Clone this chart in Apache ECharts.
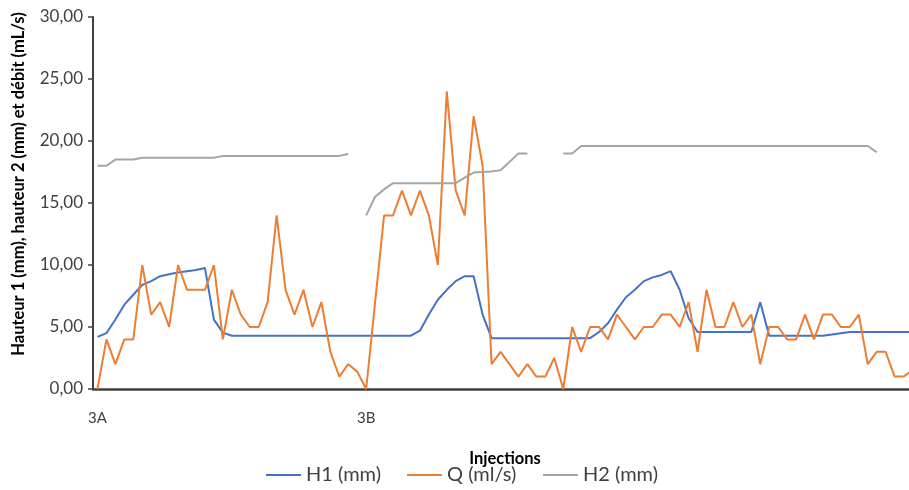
<!DOCTYPE html>
<html>
<head>
<meta charset="utf-8">
<script src="https://cdn.jsdelivr.net/npm/echarts@6/dist/echarts.min.js"></script>
<style>
  html, body { margin: 0; padding: 0; background: #ffffff; }
  #chart { width: 909px; height: 490px; }
</style>
</head>
<body>
<div id="chart"></div>
<script>
// Injection index labels along the category axis (only series starts are named)
const categories = [
  '3A','','','','','','','','','','','','','','','','','','','','','','','','','','','','','',
  '3B','','','','','','','','','','','','','','','','','','','','','','','','','','','','','',
  '','','','','','','','','','','','','','','','','','','','','','','','','','','','','','',
  '',''
];

// H1 (mm)
const h1 = [
  4.2, 4.5, 5.6, 6.8, 7.6, 8.4, 8.7, 9.1, 9.25, 9.4, 9.5, 9.6, 9.75, 5.6, 4.55,
  4.3, 4.3, 4.3, 4.3, 4.3, 4.3, 4.3, 4.3, 4.3, 4.3, 4.3, 4.3, 4.3, 4.3, 4.3, 4.3, 4.3, 4.3, 4.3, 4.3, 4.3,
  4.7, 6.0, 7.2, 8.0, 8.7, 9.1, 9.1, 6.0,
  4.1, 4.1, 4.1, 4.1, 4.1, 4.1, 4.1, 4.1, 4.1, 4.1, 4.1, 4.1,
  4.6, 5.3, 6.4, 7.4, 8.0, 8.7, 9.0, 9.2, 9.5, 8.0, 5.7,
  4.6, 4.6, 4.6, 4.6, 4.6, 4.6, 4.6,
  7.0,
  4.3, 4.3, 4.3, 4.3, 4.3, 4.3, 4.3,
  4.4, 4.5,
  4.6, 4.6, 4.6, 4.6, 4.6, 4.6, 4.6, 4.6
];

// Q (ml/s)
const q = [
  0, 4, 2, 4, 4, 10, 6, 7, 5, 10, 8, 8, 8, 10, 4, 8, 6, 5, 5, 7,
  14, 8, 6, 8, 5, 7, 3, 1, 2, 1.4,
  0, 7, 14, 14, 16, 14, 16, 14, 10, 24, 16, 14, 22, 18, 2, 3, 2, 1, 2, 1,
  1, 2.5, 0, 5, 3, 5, 5, 4, 6, 5, 4, 5, 5, 6, 6, 5, 7, 3, 8, 5,
  5, 7, 5, 6, 2, 5, 5, 4, 4, 6, 4, 6, 6, 5, 5, 6, 2, 3, 3, 1,
  1, 1.5
];

// H2 (mm) — gaps where no reading was taken
const h2 = [
  18.0, 18.0, 18.5, 18.5, 18.5,
  18.65, 18.65, 18.65, 18.65, 18.65, 18.65, 18.65, 18.65, 18.65,
  18.8, 18.8, 18.8, 18.8, 18.8, 18.8, 18.8, 18.8, 18.8, 18.8, 18.8, 18.8, 18.8, 18.8,
  18.95, null,
  14.0, 15.5, 16.1, 16.6, 16.6, 16.6, 16.6, 16.6, 16.6, 16.6, 16.6,
  17.05, 17.45, 17.5, 17.55, 17.65, 18.3, 19.0, 19.0,
  null, null, null,
  19.0, 19.0,
  19.6, 19.6, 19.6, 19.6, 19.6, 19.6, 19.6, 19.6, 19.6, 19.6, 19.6,
  19.6, 19.6, 19.6, 19.6, 19.6, 19.6, 19.6, 19.6, 19.6, 19.6, 19.6,
  19.6, 19.6, 19.6, 19.6, 19.6, 19.6, 19.6, 19.6, 19.6, 19.6, 19.6,
  19.1, null, null, null, null
];

const yMin = 0, yMax = 30, yStep = 5;

const FONT = 'Lato, "Noto Sans", sans-serif';
const colors = { h1: '#4472C4', q: '#ED7D31', h2: '#A5A5A5' };

const chart = echarts.init(document.getElementById('chart'), null, { renderer: 'canvas' });

function lineSeries(name, data, color) {
  return {
    name: name,
    type: 'line',
    data: data,
    showSymbol: false,
    symbol: 'none',
    connectNulls: false,
    animation: false,
    lineStyle: { color: color, width: 2 },
    itemStyle: { color: color }
  };
}

function legendAt(name, left) {
  return {
    data: [name],
    left: left,
    top: 465,
    padding: 0,
    icon: 'rect',
    itemWidth: 35,
    itemHeight: 2,
    textStyle: { fontFamily: FONT, fontSize: 20, color: '#404040' },
    selectedMode: false
  };
}

chart.setOption({
  backgroundColor: '#ffffff',
  animation: false,
  // the plot runs slightly past the right edge of the canvas
  grid: { left: 93, top: 17, width: 824, height: 372, outerBoundsMode: 'none' },
  legend: [
    legendAt('H1 (mm)', 266),
    legendAt('Q (ml/s)', 407),
    legendAt('H2 (mm)', 543)
  ],
  xAxis: {
    type: 'category',
    data: categories,
    boundaryGap: true,
    name: 'Injections',
    nameLocation: 'middle',
    nameGap: 61,
    nameTextStyle: { fontFamily: FONT, fontSize: 16.5, fontWeight: 'bold', color: '#000000' },
    axisLine: { lineStyle: { color: '#404040', width: 2.5 } },
    axisTick: { show: false },
    axisLabel: {
      interval: 0,
      margin: 22,
      fontFamily: FONT,
      fontSize: 15,
      color: '#404040'
    },
    splitLine: { show: false }
  },
  yAxis: {
    type: 'value',
    min: yMin,
    max: yMax,
    interval: yStep,
    axisLine: { show: true, lineStyle: { color: '#404040', width: 2 } },
    axisTick: { show: true, length: 5, lineStyle: { color: '#404040', width: 1.5 } },
    axisLabel: {
      margin: 10,
      fontFamily: FONT,
      fontSize: 17,
      color: '#404040',
      formatter: function (v) { return v.toFixed(2).replace('.', ','); }
    },
    splitLine: { show: false }
  },
  graphic: [{
    type: 'text',
    x: 19,
    y: 184,
    rotation: Math.PI / 2,
    style: {
      text: 'Hauteur 1 (mm), hauteur 2 (mm) et débit (mL/s)',
      font: 'bold 16.5px ' + FONT,
      fill: '#000000',
      textAlign: 'center',
      textVerticalAlign: 'middle'
    }
  }],
  series: [
    lineSeries('H1 (mm)', h1, colors.h1),
    lineSeries('Q (ml/s)', q, colors.q),
    lineSeries('H2 (mm)', h2, colors.h2)
  ]
});
</script>
</body>
</html>
